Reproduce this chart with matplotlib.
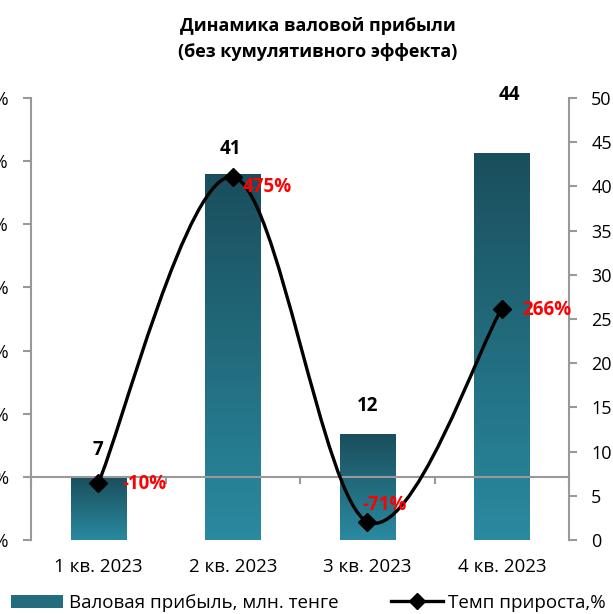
import matplotlib
matplotlib.use('Agg')
import matplotlib.pyplot as plt
import numpy as np
from matplotlib.colors import LinearSegmentedColormap
from matplotlib.path import Path
from matplotlib.patches import PathPatch, Patch
from matplotlib.lines import Line2D

plt.rcParams['font.family'] = ['Open Sans', 'DejaVu Sans']

# Данные
kvartaly = ['1 кв. 2023', '2 кв. 2023', '3 кв. 2023', '4 кв. 2023']
pribyl = [7.1, 41.4, 12.0, 43.8]      # млн. тенге
temp_prirosta = [-10, 475, -71, 266]  # %
pribyl_labels = ['7', '41', '12', '44']
temp_labels = ['-10%', '475%', '-71%', '266%']

# Смещения подписей (в пикселях)
bar_lbl_off = [(0, 27), (-2, 25), (0, 28), (8, 58)]
pct_lbl_off = [(24, -1), (10, -10), (-5, 17), (21, -1)]

grey = '#999999'
fig = plt.figure(figsize=(6.13, 6.14), dpi=100)
ax = fig.add_axes([31 / 613, 74 / 614, 538 / 613, 442 / 614])
ax2 = ax.twinx()

x = np.arange(len(kvartaly))

# Столбцы с градиентом
cmap = LinearSegmentedColormap.from_list('teal', ['#2a8aa0', '#1a4e5c'])
grad = np.linspace(0, 1, 256).reshape(-1, 1)
bars = ax.bar(x, pribyl, width=0.41, facecolor='none', edgecolor='none')
for b in bars:
    x0, y0 = b.get_x(), b.get_y()
    im = ax.imshow(grad, cmap=cmap, origin='lower', aspect='auto',
                   extent=(x0, x0 + b.get_width(), y0, y0 + b.get_height()), zorder=1)
    im.set_clip_path(b)

for xi, v, lbl, off in zip(x, pribyl, pribyl_labels, bar_lbl_off):
    ax.annotate(lbl, (xi, v), xytext=off, textcoords='offset pixels',
                ha='center', va='center', fontsize=13.5, fontweight='bold')

ax.set_xlim(-0.5, 3.5)
ax.set_ylim(0, 50)
ax.set_yticks(range(0, 51, 5))
ax.yaxis.tick_right()
ax.set_xticks(x)
ax.set_xticklabels(kvartaly)
ax.set_xticks(np.arange(-0.5, 4, 1), minor=True)
ax.tick_params(axis='x', which='both', length=0, pad=13, labelsize=13.5)
ax.tick_params(axis='y', length=6, color=grey, width=1.5, pad=10, labelsize=13)
for s in ['top', 'left', 'bottom']:
    ax.spines[s].set_visible(False)
ax.spines['right'].set_color(grey)
ax.spines['right'].set_linewidth(1.5)

# Сглаженная линия темпа прироста (Catmull-Rom -> Безье)
pts = np.column_stack([x, temp_prirosta]).astype(float)
ext = np.vstack([pts[0], pts, pts[-1]])
verts = [tuple(pts[0])]
codes = [Path.MOVETO]
for i in range(len(pts) - 1):
    p0, p1, p2, p3 = ext[i], ext[i + 1], ext[i + 2], ext[i + 3]
    c1 = p1 + (p2 - p0) / 6
    c2 = p2 - (p3 - p1) / 6
    verts += [tuple(c1), tuple(c2), tuple(p2)]
    codes += [Path.CURVE4] * 3
ax2.add_patch(PathPatch(Path(verts, codes), facecolor='none', edgecolor='black',
                        lw=2.4, zorder=3, capstyle='round'))
ax2.plot(x, temp_prirosta, linestyle='none', marker='D', color='black',
         markersize=9, zorder=4)

for xi, v, lbl, off in zip(x, temp_prirosta, temp_labels, pct_lbl_off):
    ax2.annotate(lbl, (xi, v), xytext=off, textcoords='offset pixels',
                 ha='left', va='center', fontsize=13.5, fontweight='bold', color='red')

ax2.set_ylim(-100, 600)
ax2.set_yticks(range(-100, 601, 100))
ax2.set_yticklabels([f'{t}%' for t in range(-100, 601, 100)])
ax2.yaxis.tick_left()
ax2.tick_params(axis='y', length=6, color=grey, width=1.5, pad=10, labelsize=13)
ax2.xaxis.set_visible(True)
ax2.spines['bottom'].set_position(('data', 0))
ax2.spines['bottom'].set_color(grey)
ax2.spines['bottom'].set_linewidth(1.5)
ax2.tick_params(axis='x', which='major', length=0, labelbottom=False)
ax2.tick_params(axis='x', which='minor', length=5, color=grey, width=1.5,
                direction='out', labelbottom=False)
for s in ['top', 'right']:
    ax2.spines[s].set_visible(False)
ax2.spines['left'].set_color(grey)
ax2.spines['left'].set_linewidth(1.5)
ax2.set_zorder(ax.get_zorder() + 1)
ax2.patch.set_visible(False)

fig.text(0.518, 0.972, 'Динамика валовой прибыли\n(без кумулятивного эффекта)',
         ha='center', va='top', fontsize=13, fontweight='bold', linespacing=1.55)

handles = [Patch(facecolor='#236d7e', edgecolor='none'),
           Line2D([], [], color='black', lw=2.4, marker='D', markersize=8)]
fig.legend(handles, ['Валовая прибыль, млн. тенге', 'Темп прироста,%'],
           loc='center left', bbox_to_anchor=(11 / 613, 1 - 603 / 614), ncol=2,
           frameon=False, fontsize=13.5, handlelength=2.8, handletextpad=0.27,
           columnspacing=2.8, borderpad=0, borderaxespad=0)

fig.savefig('out.png', dpi=100)
